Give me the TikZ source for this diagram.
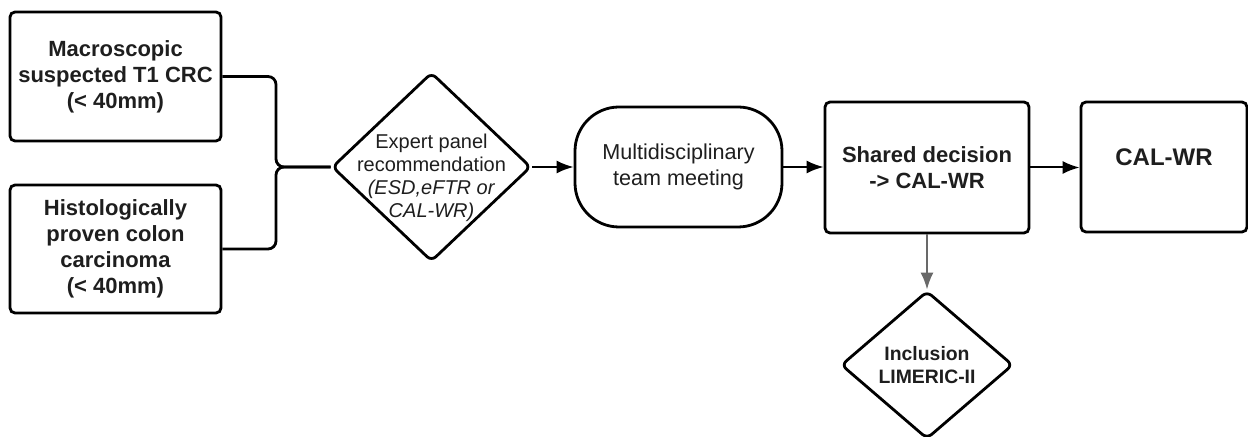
\documentclass[tikz,border=0pt]{standalone}
\usepackage{fontspec}
\setmainfont{Liberation Sans}
\usetikzlibrary{arrows.meta,shapes.geometric}
\definecolor{T}{RGB}{30, 30, 30}
\definecolor{Gr}{RGB}{105, 105, 105}
\tikzset{
  flowbox/.style={draw, line width=1.4pt, rounded corners=2.5pt, inner sep=0pt,
    align=center, text=T, font=\bfseries\fontsize{11}{13}\selectfont},
  panel/.style={draw, shape=diamond, line width=1.4pt, rounded corners=3pt, inner sep=0pt},
  paneltext/.style={align=center, text=T, font=\fontsize{10}{11.5}\selectfont},
  pill/.style={draw, line width=1.4pt, rounded corners=22pt, inner sep=0pt,
    align=center, text=T, font=\fontsize{10.8}{13}\selectfont},
  conn/.style={line width=1.4pt},
  flow/.style={line width=1pt, -{Latex[length=8.5pt,width=6.5pt]}}
}
\begin{document}
\begin{tikzpicture}[x=0.5pt,y=-0.5pt]
    \useasboundingbox (0,0) rectangle (1248,437);

    %Cajas de entrada
    \node[flowbox, minimum width=105.5pt, minimum height=64.5pt] (macro) at (115.5,76.5)
        {Macroscopic\\suspected T1 CRC\\(< 40mm)};
    \node[flowbox, minimum width=105.5pt, minimum height=64pt] (histo) at (115.5,249)
        {Histologically\\proven colon\\carcinoma\\(< 40mm)};

    %Rombo del panel
    \node[panel, minimum width=99.5pt, minimum height=94.5pt] (expert) at (431.5,167) {};
    \node[paneltext] (experttxt) at ([yshift=-5.5pt]expert.center)
        {Expert panel\\recommendation\\\textit{(ESD,eFTR or}\\\textit{CAL-WR)}};

    %Reunion
    \node[pill, minimum width=103.5pt, minimum height=60pt] (mdt) at (678.5,167)
        {Multidisciplinary\\team meeting};

    %Decision y resultado
    \node[flowbox, minimum width=102pt, minimum height=65.5pt] (shared) at (927,167.5)
        {Shared decision\\-> CAL-WR};
    \node[flowbox, minimum width=83pt, minimum height=65pt, font=\bfseries\fontsize{12}{14}\selectfont]
        (calwr) at (1164,167) {CAL-WR\\[-4pt]\phantom{X}};

    %Rombo de inclusion
    \node[panel, minimum width=86pt, minimum height=74pt] (incl) at (927,365) {};
    \node[paneltext, font=\bfseries\fontsize{9.7}{11.5}\selectfont] (incltxt) at (incl.center)
        {Inclusion\\LIMERIC-II};

    %Union de las dos entradas
    \coordinate (jn) at (276,167);
    \draw[conn, rounded corners=4pt] (macro.east) -| (jn) -- (expert.west);
    \draw[conn, rounded corners=4pt] (histo.east) -| (jn) -- (expert.west);

    %Flechas
    \draw[flow] (expert.east) -- (mdt.west);
    \draw[flow] (mdt.east) -- (mdt.east -| shared.west);
    \draw[flow] (shared.east) -- (shared.east -| calwr.west);
    \draw[flow, color=Gr] (shared.south) -- (incl.north);
\end{tikzpicture}
\end{document}
